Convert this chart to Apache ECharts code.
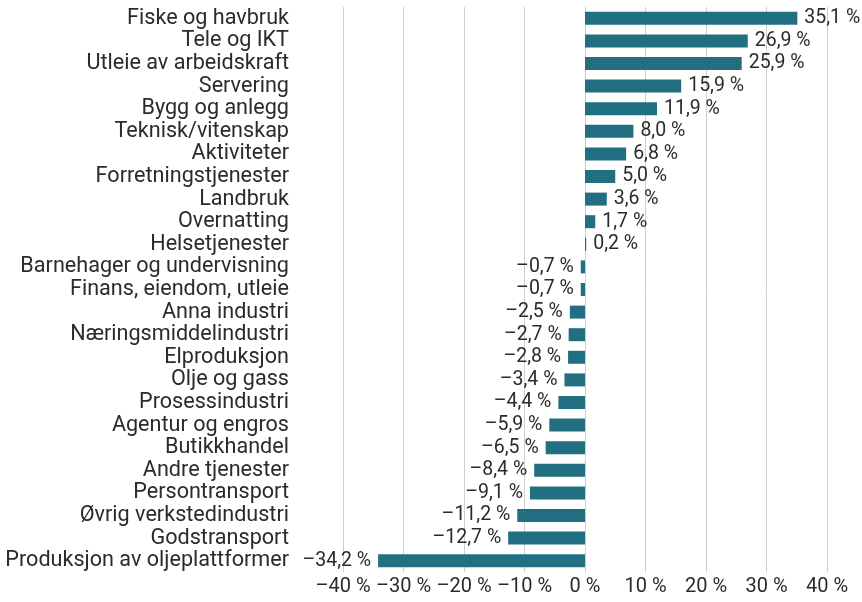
<!DOCTYPE html>
<html><head><meta charset="utf-8">
<script src="https://cdn.jsdelivr.net/npm/echarts@6/dist/echarts.min.js"></script>
<style>html,body{margin:0;padding:0;background:#fff}#c{width:862px;height:602px}</style>
</head><body><div id="c"></div>
<script>
const categories = ["Fiske og havbruk","Tele og IKT","Utleie av arbeidskraft","Servering","Bygg og anlegg","Teknisk/vitenskap","Aktiviteter","Forretningstjenester","Landbruk","Overnatting","Helsetjenester","Barnehager og undervisning","Finans, eiendom, utleie","Anna industri","Næringsmiddelindustri","Elproduksjon","Olje og gass","Prosessindustri","Agentur og engros","Butikkhandel","Andre tjenester","Persontransport","Øvrig verkstedindustri","Godstransport","Produksjon av oljeplattformer"];
const values = [35.1,26.9,25.9,15.9,11.9,8.0,6.8,5.0,3.6,1.7,0.2,-0.7,-0.7,-2.5,-2.7,-2.8,-3.4,-4.4,-5.9,-6.5,-8.4,-9.1,-11.2,-12.7,-34.2];
const xTicks = [-40,-30,-20,-10,0,10,20,30,40];

function fmt(v, dec){
  const s = (dec ? Math.abs(v).toFixed(1) : String(Math.abs(v))).replace('.', ',');
  return (v < 0 ? '\u2013' : '') + s + '\u00a0%';
}
const font = 'Roboto';
const chart = echarts.init(document.getElementById('c'), null, {renderer:'canvas'});
chart.setOption({
  animation:false,
  grid:{left:343, right:35, top:7, bottom:30},
  xAxis:{type:'value', min:xTicks[0], max:xTicks[xTicks.length-1], interval:10,
    axisLine:{show:false}, axisTick:{show:false},
    splitLine:{lineStyle:{color:'#cfcfcf', width:1}},
    axisLabel:{formatter:v=>fmt(v,false), color:'#2b2b2b', fontSize:20, fontFamily:font, margin:5}},
  yAxis:{type:'category', data:categories, inverse:true,
    axisLine:{show:false}, axisTick:{show:false},
    axisLabel:{interval:0, color:'#2b2b2b', fontSize:21.6, fontFamily:font, margin:54}},
  series:[{type:'bar', barWidth:13,
    data: values.map(v=>({value:v, label:{position: v<0?'left':'right'}})),
    itemStyle:{color:'#226f82'},
    label:{show:true, formatter:p=>fmt(p.value,true), color:'#2b2b2b', fontSize:19.5, fontFamily:font, distance:7}
  }]
});
</script></body></html>
